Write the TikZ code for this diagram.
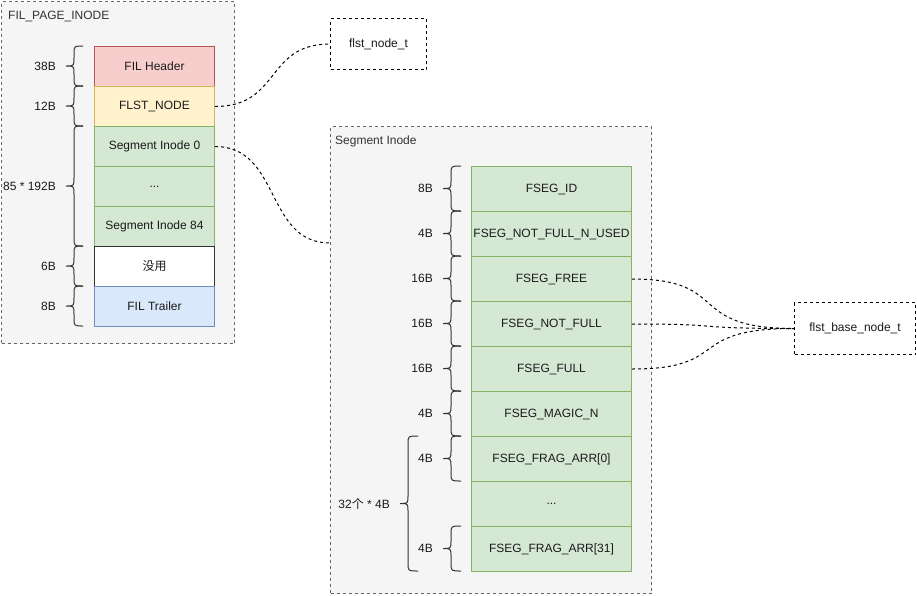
\documentclass[tikz,border=0pt]{standalone}
\usepackage{fontspec}
\setmainfont{Liberation Sans}
\newfontfamily\cjk{Noto Sans CJK SC}
\usetikzlibrary{calc}
\definecolor{panelfill}{HTML}{F5F5F5}
\definecolor{panelline}{HTML}{666666}
\definecolor{redfill}{HTML}{F8CECC}
\definecolor{redline}{HTML}{B85450}
\definecolor{yelfill}{HTML}{FFF2CC}
\definecolor{yelline}{HTML}{D6B656}
\definecolor{grnfill}{HTML}{D5E8D4}
\definecolor{grnline}{HTML}{82B366}
\definecolor{blufill}{HTML}{DAE8FC}
\definecolor{bluline}{HTML}{6C8EBF}
\definecolor{txt}{HTML}{1A1A1A}
\definecolor{paneltxt}{HTML}{333333}
\definecolor{bracecol}{HTML}{333333}
\tikzset{
  every node/.style={font=\fontsize{12pt}{14pt}\selectfont, text=txt},
  panel/.style={draw=panelline, fill=panelfill, dash pattern=on 3pt off 3pt, line width=1pt, anchor=north west, inner sep=0pt},
  cell/.style={line width=1pt, anchor=north west, inner sep=0pt, align=center},
  lcell/.style={cell, minimum width=120pt, minimum height=40pt},
  rcell/.style={cell, fill=grnfill, draw=grnline, minimum width=160pt, minimum height=45pt},
  refbox/.style={draw=black, fill=white, dash pattern=on 3pt off 3pt, line width=1pt, anchor=north west, inner sep=0pt},
  link/.style={draw=black, dash pattern=on 3pt off 3pt, line width=1pt},
  bracestyle/.style={draw=bracecol, line width=1pt},
  lbl/.style={anchor=east, inner sep=0pt},
  ttl/.style={anchor=west, inner sep=0pt, text=paneltxt}
}
\newcommand{\szbrace}[6]{%
  \pgfmathsetmacro\bym{(#4+#5)/2}%
  \draw[bracestyle] (#1,#4) .. controls (#2,#4) .. (#2,#4+8) -- (#2,\bym-8) .. controls (#2,\bym) .. (#3,\bym) .. controls (#2,\bym) .. (#2,\bym+8) -- (#2,#5-8) .. controls (#2,#5) .. (#1,#5);
  \node[lbl] at (#3-10,\bym) {#6};
}
\begin{document}
\begin{tikzpicture}[x=1pt,y=-1pt]
\useasboundingbox (0,0) rectangle (917,595);
% left panel
\node[panel, minimum width=233pt, minimum height=342pt] (pagepanel) at (1,1) {};
\node[ttl] (pagetitle) at (8,16) {FIL\_PAGE\_INODE};
\node[lcell, fill=redfill, draw=redline] (filhdr) at (94,46) {FIL Header};
\node[lcell, fill=yelfill, draw=yelline] (flst) at (94,86) {FLST\_NODE};
\node[lcell, fill=grnfill, draw=grnline] (seg0) at (94,126) {Segment Inode 0};
\node[lcell, fill=grnfill, draw=grnline] (segdots) at (94,166) {...};
\node[lcell, fill=grnfill, draw=grnline] (seg84) at (94,206) {Segment Inode 84};
\node[lcell, fill=white, draw=black!80] (unused) at (94,246) {\cjk 没用};
\node[lcell, fill=blufill, draw=bluline] (filtrl) at (94,286) {FIL Trailer};
\szbrace{83}{74}{66}{46}{86}{38B}
\szbrace{83}{74}{66}{86}{126}{12B}
\szbrace{83}{74}{66}{126}{246}{85 * 192B}
\szbrace{83}{74}{66}{246}{286}{6B}
\szbrace{83}{74}{66}{286}{326}{8B}
% flst_node_t
\node[refbox, minimum width=96pt, minimum height=51pt] (flstnode) at (330,18) {flst\_node\_t};
% right panel
\node[panel, minimum width=321pt, minimum height=467pt] (segpanel) at (330,126) {};
\node[ttl] (segtitle) at (335,141) {Segment Inode};
\node[rcell] (fid) at (471,166) {FSEG\_ID};
\node[rcell] (fnfused) at (471,211) {FSEG\_NOT\_FULL\_N\_USED};
\node[rcell] (ffree) at (471,256) {FSEG\_FREE};
\node[rcell] (fnotfull) at (471,301) {FSEG\_NOT\_FULL};
\node[rcell] (ffull) at (471,346) {FSEG\_FULL};
\node[rcell] (fmagic) at (471,391) {FSEG\_MAGIC\_N};
\node[rcell] (ffrag0) at (471,436) {FSEG\_FRAG\_ARR[0]};
\node[rcell] (ffragdots) at (471,481) {...};
\node[rcell] (ffrag31) at (471,526) {FSEG\_FRAG\_ARR[31]};
\szbrace{461}{451}{443}{166}{211}{8B}
\szbrace{461}{451}{443}{211}{256}{4B}
\szbrace{461}{451}{443}{256}{301}{16B}
\szbrace{461}{451}{443}{301}{346}{16B}
\szbrace{461}{451}{443}{346}{391}{16B}
\szbrace{461}{451}{443}{391}{436}{4B}
\szbrace{461}{451}{443}{436}{481}{4B}
\szbrace{461}{451}{443}{526}{571}{4B}
\szbrace{418}{408}{400}{436}{571}{32{\cjk 个} * 4B}
% flst_base_node_t
\node[refbox, minimum width=121pt, minimum height=52pt] (flstbase) at (794,302) {flst\_base\_node\_t};
% connectors
\draw[link] (flst.east) .. controls +(66,0) and +(-65,0) .. (flstnode.west);
\draw[link] (seg0.east) .. controls +(66,0) and +(-65,0) .. ($(segpanel.north west)!0.25!(segpanel.south west)$);
\draw[link] (ffree.east) .. controls +(100,0) and +(-110,0) .. (flstbase.west);
\draw[link] (fnotfull.east) .. controls +(100,0) and +(-110,0) .. (flstbase.west);
\draw[link] (ffull.east) .. controls +(100,0) and +(-110,0) .. (flstbase.west);
\end{tikzpicture}
\end{document}
